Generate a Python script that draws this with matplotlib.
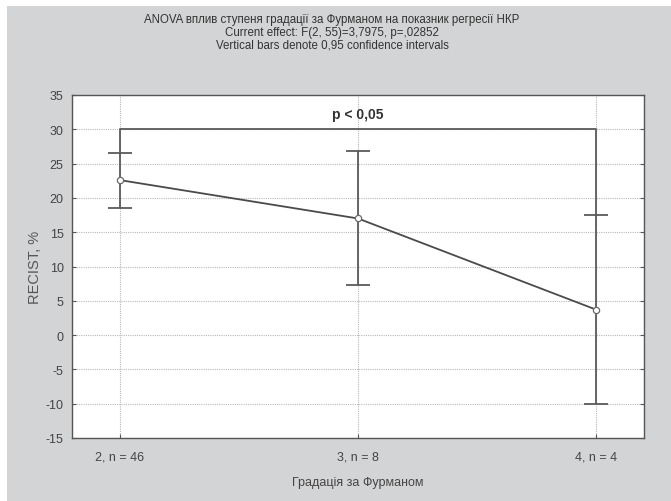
import matplotlib
matplotlib.use("Agg")
import matplotlib.pyplot as plt
from matplotlib.patches import Rectangle

plt.rcParams['font.family'] = ['Liberation Sans', 'DejaVu Sans']

categories = ["2, n = 46", "3, n = 8", "4, n = 4"]
means = [22.6, 17.0, 3.7]
ci_low = [18.6, 7.3, -10.0]
ci_high = [26.6, 26.8, 17.5]
yticks = [-15, -10, -5, 0, 5, 10, 15, 20, 25, 30, 35]
bracket_y = 30
sig_text = "p < 0,05"
title_lines = ["ANOVA вплив ступеня градації за Фурманом на показник регресії НКР",
               "Current effect: F(2, 55)=3,7975, p=,02852",
               "Vertical bars denote 0,95 confidence intervals"]

W, H = 671, 502
fig = plt.figure(figsize=(W/100, H/100), dpi=100)
fig.patch.set_facecolor('white')
bg = '#d3d4d6'
fig.patches.append(Rectangle((7/W, 0), 1 - 7/W, 1 - 7/H, transform=fig.transFigure,
                             facecolor=bg, edgecolor='none', zorder=-10))

ax = fig.add_axes([72/W, 1 - 439/H, (644 - 72)/W, (439 - 96)/H])
ax.set_facecolor('white')

x = list(range(len(categories)))
yerr = [[m - l for m, l in zip(means, ci_low)], [h - m for m, h in zip(means, ci_high)]]
ax.errorbar(x, means, yerr=yerr, fmt='none', ecolor='#5a5a5a', elinewidth=1.3,
            capsize=8.6, capthick=1.3, zorder=3)
ax.plot(x, means, color='#4a4a4a', linewidth=1.3, zorder=4)
ax.plot(x, means, linestyle='none', marker='o', markersize=4.5, markerfacecolor='white',
        markeredgecolor='#6a6a6a', markeredgewidth=0.9, zorder=5)

# significance bracket
ax.plot([x[0], x[0], x[-1], x[-1]], [ci_high[0], bracket_y, bracket_y, ci_high[-1]],
        color='#5a5a5a', linewidth=1.3, zorder=3)
ax.text((x[0] + x[-1]) / 2, bracket_y + 2.3, sig_text, ha='center', va='center',
        fontsize=10, fontweight='bold', color='#333333')

ax.set_xlim(-0.2, 2.2)
ax.set_ylim(-15, 35)
ax.set_yticks(yticks)
ax.set_yticklabels([str(v) for v in yticks])
ax.set_xticks(x)
ax.set_xticklabels(categories)
ax.grid(True, linestyle=(0, (1, 1)), color='#b8b8b8', linewidth=0.8)
ax.set_axisbelow(True)
ax.tick_params(axis='both', direction='in', length=3, width=0.8, colors='#555555',
               labelcolor='#444444', labelsize=9, right=True, top=False)
ax.tick_params(axis='x', pad=9)
ax.tick_params(axis='y', pad=6)
for s in ax.spines.values():
    s.set_color('#555555')
    s.set_linewidth(1.0)

ax.set_ylabel("RECIST, %", fontsize=10.5, color='#555555', labelpad=3)
ax.set_xlabel("Градація за Фурманом", fontsize=9, color='#444444', labelpad=10)

ys = [1 - 20/H, 1 - 33/H, 1 - 46/H]
for t, yy in zip(title_lines, ys):
    fig.text(332/W, yy, t, ha='center', va='center', fontsize=8.3, color='#333333')

fig.savefig("out.png", dpi=100, facecolor=fig.get_facecolor())
